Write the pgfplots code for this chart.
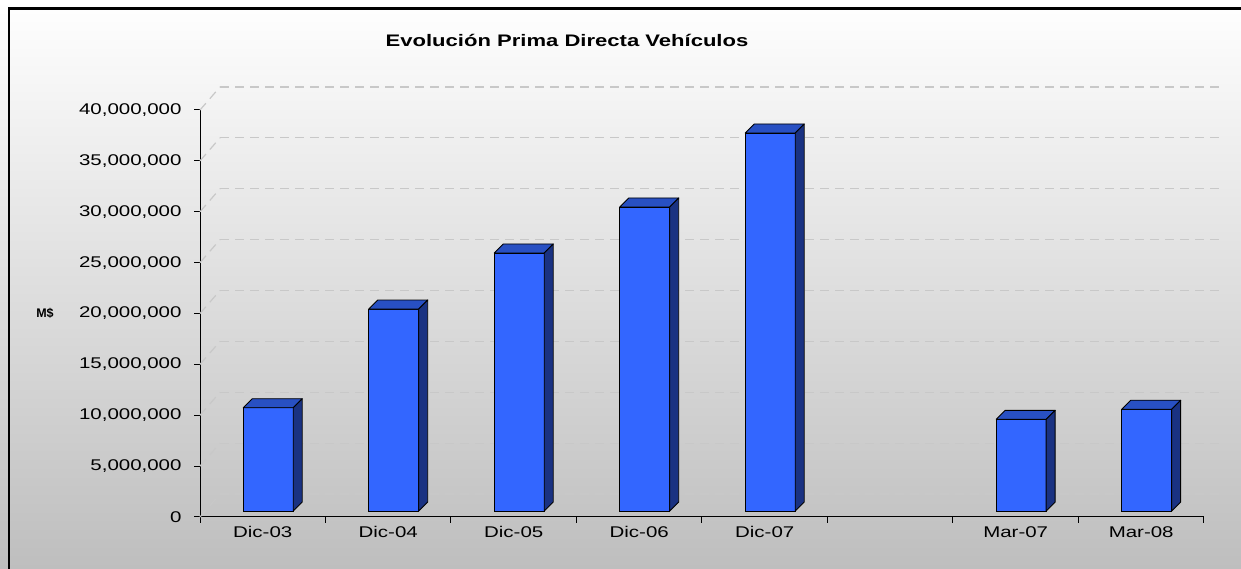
\documentclass[border=0pt]{standalone}
\usepackage{fontspec}
\setmainfont{Liberation Sans}[FakeStretch=1.32]
\newfontfamily\labelfont{Liberation Sans}
\usepackage{pgfplots}
\usepackage{pgfplotstable}
\pgfplotsset{compat=1.18}
\definecolor{barfront}{RGB}{51,102,255}
\definecolor{bartop}{RGB}{40,80,195}
\definecolor{barside}{RGB}{26,50,130}
\definecolor{gridc}{RGB}{200,200,200}
\definecolor{bggray}{RGB}{190,190,190}

\pgfplotstableread{
x y
0 10150000
1 19850000
2 25360000
3 29880000
4 37150000
6 9010000
7 10000000
}\datatable

\begin{document}
\begin{tikzpicture}[x=1pt,y=1pt]
\useasboundingbox (0,0) rectangle (1241,569);
\shade[top color=white, bottom color=bggray] (0,0) rectangle (1241,569);
\draw[line width=2.5pt, black] (9,-20) rectangle (1260,560.5);
\begin{axis}[
  at={(200pt,52pt)}, anchor=south west,
  scale only axis, width=1004pt, height=407pt,
  xmin=-0.5, xmax=7.5, ymin=0, ymax=40000000,
  axis x line*=bottom, axis y line*=left,
  axis line style={black, line width=1pt, -},
  xtick={-0.5,0.5,...,7.5},
  x tick label as interval,
  xticklabels={Dic-03,Dic-04,Dic-05,Dic-06,Dic-07,,Mar-07,Mar-08},
  ytick={0,5000000,10000000,15000000,20000000,25000000,30000000,35000000,40000000},
  tick align=outside, major tick length=6pt,
  tick style={black, line width=1pt},
  scaled y ticks=false,
  yticklabel style={/pgf/number format/fixed, /pgf/number format/1000 sep={,}, xshift=-9pt},
  /pgf/number format/assume math mode=true,
  ticklabel style={font=\fontsize{15.5}{18}\selectfont, text=black},
  ymajorgrids,
  grid style={gridc, line width=1.2pt, dash pattern=on 9pt off 6pt, xshift=20pt, yshift=23pt},
  clip=false,
]
\addplot[ybar, bar width=50pt, bar shift=5.5pt, yshift=6pt, fill=barfront, draw=black, line width=0.9pt]
  table[x=x, y=y] {\datatable};
\pgfplotsinvokeforeach{0,...,6}{
  \pgfplotstablegetelem{#1}{x}\of\datatable \let\cx\pgfplotsretval
  \pgfplotstablegetelem{#1}{y}\of\datatable \let\cy\pgfplotsretval
  \edef\temp{%
    \noexpand\filldraw[fill=bartop, draw=black, line width=0.9pt, line join=round]
      ([xshift=-19.5pt,yshift=6pt]axis cs:\cx,\cy) -- ++(9pt,9pt) -- ++(50pt,0pt) -- ++(-9pt,-9pt) -- cycle;
    \noexpand\filldraw[fill=barside, draw=black, line width=0.9pt, line join=round]
      ([xshift=30.5pt,yshift=6pt]axis cs:\cx,\cy) -- ++(9pt,9pt) -- ([xshift=39.5pt,yshift=15pt]axis cs:\cx,0) -- ++(-9pt,-9pt) -- cycle;
  }\temp
}
\pgfplotsinvokeforeach{0,0.125,0.25,0.375,0.5,0.625,0.75,0.875,1}{
  \draw[gridc, line width=1.2pt, dash pattern=on 9pt off 6pt] (rel axis cs:0,#1) -- ++(20pt,23pt);
}
\end{axis}
\node[font=\bfseries\fontsize{16.7}{20}\selectfont] at (567,529) {Evolución Prima Directa Vehículos};
\node[font=\labelfont\bfseries\fontsize{12.5}{14}\selectfont] at (45,256) {M\$};
\end{tikzpicture}
\end{document}
